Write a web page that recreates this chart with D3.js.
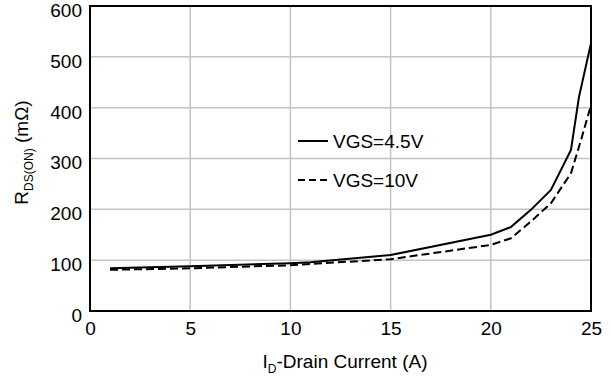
<!DOCTYPE html>
<html>
<head>
<meta charset="utf-8">
<script src="https://cdn.jsdelivr.net/npm/d3@7"></script>
<style>
  body { margin: 0; background: #fff; }
  svg { display: block; font-family: "Liberation Sans", Arial, sans-serif; }
</style>
</head>
<body>
<div id="chart"></div>
<script>
// drain current (A) and R_DS(on) (mOhm)
const current45 = [1, 5, 10, 11, 15, 20, 21, 22, 23, 24, 24.4, 25];
const rdson45 = [84, 88, 94, 96, 110, 150, 165, 199, 238, 317, 421, 527];
const current10 = [1, 5, 10, 15, 20, 21, 22, 23, 24, 24.5, 25];
const rdson10 = [81, 84, 90, 102, 130, 143, 176, 212, 271, 336, 405];
const xTicks = [0, 5, 10, 15, 20, 25];
const yTicks = [0, 100, 200, 300, 400, 500, 600];
const legendLabels = ["VGS=4.5V", "VGS=10V"];

const width = 611, height = 378;
const margin = { top: 6, right: 20, bottom: 67, left: 90 };
const fs = 19;

const svg = d3.select("#chart").append("svg")
    .attr("width", width)
    .attr("height", height);

const x = d3.scaleLinear().domain([0, 25]).range([margin.left, width - margin.right]);
const y = d3.scaleLinear().domain([0, 600]).range([height - margin.bottom, margin.top]);

// grid
svg.append("g")
    .attr("stroke", "#c4c4c4")
    .attr("stroke-width", 1.5)
    .selectAll("line")
    .data(xTicks.slice(1, -1))
    .join("line")
    .attr("x1", d => x(d)).attr("x2", d => x(d))
    .attr("y1", y(0)).attr("y2", y(600));

svg.append("g")
    .attr("stroke", "#c4c4c4")
    .attr("stroke-width", 1.5)
    .selectAll("line")
    .data(yTicks.slice(1, -1))
    .join("line")
    .attr("x1", x(0)).attr("x2", x(25))
    .attr("y1", d => y(d)).attr("y2", d => y(d));

// tick labels
const xAxis = svg.append("g")
    .attr("transform", `translate(0,${y(0)})`)
    .call(d3.axisBottom(x).tickValues(xTicks).tickSize(0).tickPadding(11));
const yAxis = svg.append("g")
    .attr("transform", `translate(${x(0)},0)`)
    .call(d3.axisLeft(y).tickValues(yTicks).tickSize(0).tickPadding(8));
[xAxis, yAxis].forEach(a => {
    a.select(".domain").remove();
    a.selectAll("text").attr("font-size", fs).attr("fill", "#000")
        .attr("font-family", "Liberation Sans, Arial, sans-serif");
});
yAxis.selectAll("text").attr("dy", "0.55em");

// curves
const line = d3.line().x(d => x(d[0])).y(d => y(d[1]));
svg.append("path")
    .datum(d3.zip(current45, rdson45))
    .attr("fill", "none").attr("stroke", "#000").attr("stroke-width", 2)
    .attr("d", line);
svg.append("path")
    .datum(d3.zip(current10, rdson10))
    .attr("fill", "none").attr("stroke", "#000").attr("stroke-width", 2)
    .attr("stroke-dasharray", "8,4")
    .attr("d", line);

// frame
svg.append("rect")
    .attr("x", x(0)).attr("y", y(600))
    .attr("width", x(25) - x(0)).attr("height", y(0) - y(600))
    .attr("fill", "none").attr("stroke", "#000").attr("stroke-width", 2);

// legend
const legend = svg.append("g");
legendLabels.forEach((lab, i) => {
    const ly = 141 + i * 39;
    legend.append("line")
        .attr("x1", 298).attr("x2", 328)
        .attr("y1", ly).attr("y2", ly)
        .attr("stroke", "#000").attr("stroke-width", 2)
        .attr("stroke-dasharray", i === 1 ? "7,4" : null);
    legend.append("text")
        .attr("x", 333).attr("y", ly + 7)
        .attr("font-size", fs)
        .text(lab);
});

// x title
const xt = svg.append("text")
    .attr("x", 345).attr("y", 368)
    .attr("text-anchor", "middle")
    .attr("font-size", fs);
xt.append("tspan").text("I");
xt.append("tspan").attr("font-size", 12).attr("dy", 5).text("D");
xt.append("tspan").attr("dy", -5).text("-Drain Current (A)");

// y title
const yt = svg.append("text")
    .attr("transform", `translate(28,${y(300) - 6}) rotate(-90)`)
    .attr("text-anchor", "middle")
    .attr("font-size", fs);
yt.append("tspan").text("R");
yt.append("tspan").attr("font-size", 12).attr("dy", 5).text("DS(ON)");
yt.append("tspan").attr("dy", -5).text(" (mΩ)");
</script>
</body>
</html>
